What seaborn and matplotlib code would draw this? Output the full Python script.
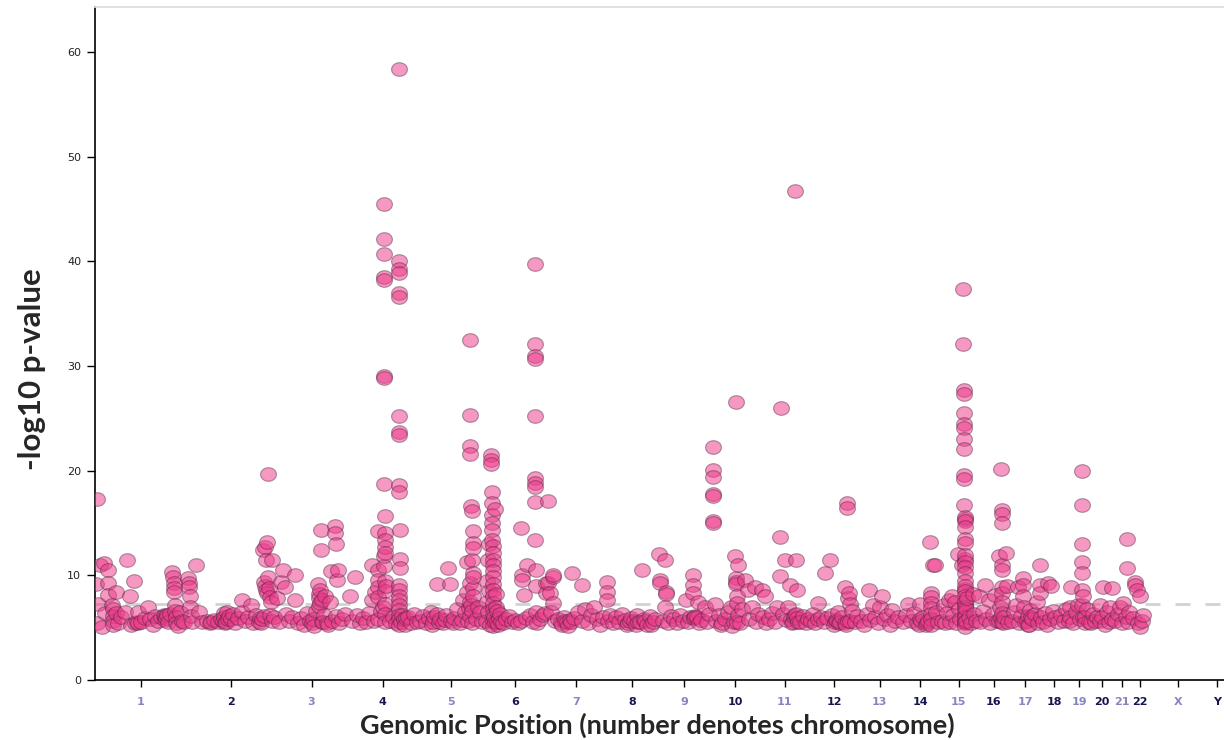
import numpy as np
import pandas as pd
import matplotlib
matplotlib.use('Agg')
import matplotlib.pyplot as plt
from matplotlib.path import Path
from matplotlib.markers import MarkerStyle
import seaborn as sns

# chromosome names and lengths (Mb) used for the cumulative genomic axis
chrom_names = [str(i) for i in range(1, 23)] + ['X', 'Y']
chrom_lengths = [249, 243, 198, 191, 181, 171, 159, 146, 141, 136, 135, 134,
                 115, 107, 102, 90, 81, 78, 59, 63, 48, 51, 155, 59]

# hits per chromosome: (position within chromosome in Mb, -log10 p)
chr1 = [(5, 17.3), (4, 9.2), (5, 5.4), (8, 7.3), (14, 11.0), (18, 5.1), (25, 11.2), (27, 6.4),
        (35, 10.5), (35, 9.3), (35, 8.1), (46, 7.2), (49, 6.8), (49, 6.1), (49, 5.6), (49, 5.3),
        (57, 8.4), (57, 6.4), (63, 5.4), (71, 6.0), (82, 6.5), (87, 11.5), (96, 8.0), (98, 5.3),
        (106, 9.5), (109, 5.4), (114, 5.5), (116, 5.4), (117, 6.5), (126, 5.5), (137, 5.9),
        (145, 7.0), (150, 5.8), (158, 5.3), (164, 6.1), (172, 5.6), (180, 6.0), (188, 6.2),
        (190, 6.1), (192, 5.7), (194, 5.9), (197, 6.2), (199, 5.5), (205, 6.3), (210, 10.3),
        (213, 9.8), (216, 9.3), (216, 8.8), (216, 8.4), (218, 7.2), (218, 6.6), (221, 6.0),
        (221, 5.4), (227, 5.2), (232, 6.5), (238, 5.6), (243, 5.5)]
chr2 = [(5, 9.7), (8, 9.3), (8, 8.9), (10, 8.0), (10, 7.0), (13, 6.1), (16, 5.5), (27, 11.0),
        (35, 6.5), (43, 5.5), (57, 5.6), (65, 5.4), (67, 5.5), (76, 5.7), (87, 5.5), (95, 5.8),
        (101, 5.6), (103, 6.4), (104, 6.0), (106, 5.4), (109, 5.5), (110, 6.5), (113, 5.8),
        (117, 6.1), (122, 5.8), (128, 6.3), (133, 5.4), (141, 5.9), (152, 7.6), (152, 6.5),
        (161, 5.6), (169, 6.0), (177, 7.2), (182, 5.4), (191, 6.2), (199, 5.5), (200, 5.9),
        (205, 5.4), (207, 5.8), (210, 12.4), (212, 9.4), (212, 6.1), (215, 12.7), (215, 9.0),
        (218, 11.5), (218, 8.6), (221, 13.2), (221, 8.3), (223, 19.7), (223, 9.8), (226, 8.8),
        (229, 7.9), (229, 6.2), (232, 7.5), (234, 11.5), (234, 5.6), (240, 6.0)]
chr3 = [(5, 7.8), (10, 5.5), (16, 9.4), (21, 10.5), (26, 8.9), (29, 6.3), (37, 5.6), (46, 6.0),
        (54, 10.0), (54, 7.6), (62, 5.4), (70, 5.9), (78, 5.3), (87, 6.4), (95, 5.6), (100, 5.4),
        (103, 5.8), (106, 5.2), (111, 6.6), (117, 9.2), (118, 8.2), (119, 7.1), (120, 7.8),
        (122, 8.6), (123, 7.4), (125, 14.3), (125, 12.4), (127, 7.6), (127, 5.5), (130, 5.5),
        (133, 6.2), (136, 8.0), (141, 5.4), (145, 5.3), (149, 7.5), (152, 10.4), (155, 5.6),
        (163, 14.7), (163, 14.0), (166, 13.0), (168, 9.6), (171, 10.5), (166, 6.1), (174, 5.4),
        (182, 5.8), (190, 6.3)]
chr4 = [(6, 8.0), (11, 5.6), (20, 9.8), (25, 6.2), (33, 5.4), (41, 5.9), (50, 5.5), (58, 6.4),
        (66, 11.0), (66, 7.6), (72, 5.6), (74, 8.4), (82, 14.2), (82, 10.5), (82, 9.6), (82, 8.9),
        (82, 7.9), (82, 5.8), (91, 6.6), (96, 7.0), (98, 10.9), (99, 45.5), (99, 42.1), (99, 40.7),
        (99, 38.5), (99, 38.2), (99, 29.0), (99, 28.9), (99, 18.7), (100, 11.8), (102, 15.7),
        (102, 14.0), (102, 13.4), (102, 12.7), (102, 12.1), (102, 9.5), (102, 8.5), (102, 7.3),
        (102, 6.3), (102, 5.5), (104, 9.0), (115, 5.6), (123, 6.0), (131, 5.4), (140, 58.4),
        (140, 40.0), (140, 39.3), (140, 38.9), (140, 37.0), (140, 36.6), (140, 25.2), (140, 23.7),
        (140, 23.4), (140, 18.6), (140, 18.0), (143, 14.3), (143, 11.6), (143, 10.7), (140, 9.1),
        (140, 8.6), (140, 8.0), (140, 7.6), (140, 7.2), (140, 6.7), (140, 6.2), (140, 5.8),
        (140, 5.3), (145, 5.5), (147, 6.2), (153, 5.8), (157, 5.3), (160, 5.9), (164, 6.0),
        (173, 5.4), (181, 6.3), (189, 5.5)]
chr5 = [(6, 5.6), (14, 6.1), (22, 5.4), (31, 5.9), (36, 6.5), (40, 5.3), (41, 5.5), (45, 6.0),
        (52, 9.2), (52, 6.3), (57, 5.5), (61, 5.8), (69, 5.4), (74, 5.7), (77, 6.2), (82, 10.7),
        (88, 9.2), (91, 5.6), (95, 5.4), (99, 5.9), (107, 6.8), (115, 5.4), (120, 5.7), (123, 7.6),
        (129, 6.5), (134, 11.3), (134, 8.4), (137, 5.6), (139, 6.9), (141, 7.5), (143, 32.5),
        (143, 25.3), (143, 22.4), (143, 21.6), (143, 9.3), (143, 6.1), (145, 16.6), (146, 7.2),
        (147, 6.6), (148, 16.1), (148, 5.4), (149, 11.5), (150, 14.2), (150, 13.1), (150, 12.6),
        (150, 10.2), (150, 8.8), (150, 8.0), (151, 9.8), (159, 5.8), (164, 7.0), (170, 6.5),
        (175, 5.5)]
chr6 = [(5, 5.6), (8, 7.5), (8, 9.5), (11, 11.5), (11, 6.5), (13, 13.0), (13, 8.5), (16, 5.3),
        (19, 21.5), (19, 21.0), (19, 20.6), (22, 18.0), (22, 16.9), (22, 15.8), (22, 15.0),
        (22, 14.3), (22, 13.4), (24, 12.8), (24, 12.1), (24, 11.5), (24, 11.0), (24, 10.4),
        (24, 9.8), (24, 9.2), (24, 8.6), (24, 8.0), (24, 7.4), (24, 6.8), (24, 6.2), (24, 5.6),
        (24, 5.2), (28, 6.0), (30, 16.3), (30, 5.5), (31, 8.2), (33, 7.0), (35, 5.5), (36, 6.6),
        (38, 5.3), (40, 5.9), (43, 6.3), (46, 5.5), (52, 5.4), (60, 5.8), (68, 6.1), (76, 5.5),
        (84, 5.7), (93, 5.4), (101, 14.5), (103, 10.0), (103, 9.6), (101, 5.6), (109, 8.1),
        (114, 5.9), (117, 11.0), (125, 6.2), (134, 5.5), (139, 39.7), (139, 32.1), (139, 31.0),
        (139, 30.7), (139, 25.2), (139, 19.3), (139, 18.8), (139, 18.4), (139, 17.0), (139, 13.4),
        (142, 10.5), (142, 9.0), (142, 6.5), (144, 5.4), (153, 5.8), (161, 6.2), (166, 6.4),
        (169, 9.3), (169, 8.3)]
chr7 = [(2, 17.1), (3, 9.3), (9, 8.3), (11, 6.5), (17, 9.8), (17, 10.0), (17, 7.4), (22, 5.6),
        (31, 5.8), (39, 5.4), (42, 5.3), (47, 6.0), (50, 5.6), (55, 5.5), (58, 5.2), (63, 5.7),
        (66, 5.5), (69, 10.2), (74, 5.9), (85, 6.5), (96, 9.1), (96, 5.6), (104, 6.8), (112, 5.4),
        (121, 6.2), (129, 7.0), (137, 5.8), (145, 5.3), (153, 6.0)]
chr8 = [(5, 9.4), (5, 8.4), (5, 7.6), (8, 5.6), (14, 6.2), (22, 5.4), (30, 6.0), (38, 5.5),
        (46, 6.3), (55, 5.7), (60, 5.3), (63, 5.4), (68, 5.6), (71, 5.9), (79, 5.6), (84, 5.3),
        (87, 6.2), (90, 5.5), (96, 5.5), (101, 10.5), (106, 5.8), (110, 5.6), (115, 5.3),
        (123, 6.1), (126, 5.3), (131, 5.5), (137, 5.8)]
chr9 = [(1, 12.0), (4, 9.6), (4, 9.3), (12, 5.6), (18, 11.5), (20, 8.4), (20, 8.2), (18, 7.0),
        (26, 5.4), (34, 6.1), (42, 5.8), (50, 5.4), (59, 6.2), (67, 5.6), (75, 7.6), (81, 5.5),
        (86, 6.0), (94, 10.0), (94, 9.1), (94, 8.3), (96, 6.0), (98, 5.9), (100, 6.1), (105, 6.0),
        (108, 7.5), (110, 5.4), (116, 5.7), (127, 7.0), (132, 5.5), (138, 6.3)]
chr10 = [(8, 22.3), (8, 20.1), (8, 19.4), (8, 17.8), (8, 17.6), (8, 15.2), (8, 15.0), (13, 7.3),
         (16, 5.6), (24, 6.2), (30, 5.3), (32, 5.4), (40, 5.8), (49, 6.5), (57, 7.0), (60, 5.2),
         (65, 5.5), (68, 11.8), (70, 26.6), (70, 9.7), (70, 9.4), (70, 9.2), (72, 5.5), (73, 8.0),
         (73, 7.4), (76, 11.0), (76, 6.2), (81, 5.4), (87, 6.8), (95, 9.6), (103, 8.6), (106, 5.8),
         (114, 7.0), (122, 8.9), (125, 5.5), (130, 6.3)]
chr11 = [(5, 8.6), (8, 6.0), (14, 8.0), (16, 5.4), (25, 5.8), (33, 6.4), (41, 5.5), (46, 7.0),
         (55, 13.7), (55, 9.9), (57, 26.0), (63, 6.3), (68, 11.5), (71, 5.7), (76, 7.0), (82, 9.1),
         (85, 5.8), (87, 5.4), (90, 5.5), (93, 6.0), (95, 6.2), (96, 46.7), (98, 11.5), (98, 6.3),
         (100, 5.9), (101, 8.6), (104, 5.5), (109, 5.5), (117, 6.1), (126, 5.4), (131, 5.8)]
chr12 = [(4, 5.6), (10, 6.3), (15, 5.4), (23, 7.4), (23, 5.8), (31, 6.0), (40, 5.5), (42, 10.2),
         (48, 5.9), (56, 11.5), (61, 6.2), (67, 5.3), (70, 5.5), (72, 5.7), (74, 5.6), (78, 6.5),
         (80, 5.4), (83, 5.5), (89, 6.0), (97, 8.9), (97, 5.4), (100, 5.3), (102, 16.9),
         (102, 16.4), (104, 5.6), (105, 7.8), (108, 8.3), (111, 7.3), (111, 5.6), (116, 6.6),
         (124, 5.5), (130, 6.1)]
chr13 = [(6, 5.6), (15, 5.3), (23, 6.3), (28, 8.6), (31, 5.7), (39, 7.2), (45, 6.0), (53, 5.4),
         (58, 7.0), (64, 8.0), (69, 5.8), (77, 6.2), (86, 5.3), (91, 6.7), (99, 5.6), (108, 6.0)]
chr14 = [(6, 5.5), (14, 6.2), (20, 7.3), (28, 5.6), (36, 6.4), (44, 5.4), (50, 5.3), (53, 7.3),
         (53, 5.8), (56, 5.6), (61, 6.0), (69, 5.3), (72, 5.4), (75, 5.6), (80, 13.2), (83, 8.3),
         (83, 7.9), (83, 7.4), (83, 6.9), (83, 6.3), (83, 5.8), (83, 5.3), (88, 11.0), (94, 11.0),
         (96, 6.5), (101, 5.5)]
chr15 = [(6, 5.6), (11, 7.2), (14, 5.4), (19, 6.4), (25, 7.6), (28, 5.5), (33, 8.0), (36, 6.2),
         (41, 7.5), (44, 5.4), (49, 12.0), (52, 6.8), (55, 5.8), (60, 11.0), (63, 37.4),
         (63, 32.1), (66, 27.7), (66, 27.3), (66, 25.5), (66, 24.5), (66, 24.1), (66, 23.0),
         (66, 22.1), (66, 19.6), (66, 19.2), (66, 16.7), (67, 15.4), (67, 11.6), (67, 8.7),
         (67, 7.2), (67, 6.1), (67, 5.4), (69, 15.6), (69, 15.2), (69, 14.6), (69, 13.5),
         (69, 13.1), (69, 11.9), (69, 11.3), (69, 10.8), (69, 10.2), (69, 9.5), (69, 9.0),
         (69, 8.5), (69, 8.0), (69, 7.5), (69, 7.0), (69, 6.5), (69, 6.0), (69, 5.5), (69, 5.1),
         (71, 6.8), (71, 5.6), (74, 7.8), (79, 6.0), (85, 5.4), (90, 8.2), (93, 6.3), (98, 5.6)]
chr16 = [(5, 8.0), (7, 5.5), (16, 6.6), (21, 9.1), (24, 5.8), (32, 7.6), (35, 5.4), (43, 6.3),
         (48, 8.1), (54, 5.6), (59, 11.8), (60, 5.6), (62, 7.0), (64, 6.0), (65, 20.2), (67, 16.2),
         (67, 15.9), (67, 15.0), (67, 11.0), (67, 10.5), (67, 8.9), (67, 8.3), (67, 7.5), (67, 6.4),
         (67, 5.5), (70, 5.4), (73, 6.0), (78, 12.1), (81, 9.0), (84, 5.5)]
chr17 = [(5, 5.6), (10, 6.5), (16, 7.2), (21, 8.9), (24, 5.4), (29, 6.1), (35, 9.7), (35, 9.1),
         (35, 8.0), (37, 7.0), (40, 5.5), (45, 5.6), (48, 6.1), (48, 5.3), (51, 5.3), (54, 6.7),
         (57, 6.0), (59, 5.8), (67, 6.3), (73, 7.5), (76, 5.4)]
chr18 = [(1, 11.0), (1, 9.1), (1, 8.3), (3, 6.0), (8, 5.5), (14, 6.4), (19, 5.3), (22, 9.3),
         (27, 5.8), (30, 9.0), (35, 6.6), (41, 6.0), (49, 5.5), (57, 6.2), (66, 5.6), (71, 6.8)]
chr19 = [(1, 5.6), (4, 7.0), (4, 6.0), (7, 8.9), (12, 5.4), (20, 6.5), (26, 7.2), (31, 5.8),
         (37, 20.0), (37, 16.7), (37, 13.0), (37, 11.3), (37, 10.2), (37, 8.6), (37, 7.2),
         (40, 8.0), (40, 6.0), (45, 6.0), (45, 5.4), (51, 6.8), (56, 5.5)]
chr20 = [(2, 5.4), (8, 6.3), (13, 5.6), (19, 6.0), (27, 7.2), (27, 5.6), (32, 6.05), (35, 8.9),
         (41, 5.3), (46, 6.5), (51, 5.5), (54, 7.0), (59, 8.8), (59, 5.8)]
chr21 = [(5, 5.6), (13, 6.3), (19, 7.0), (24, 5.4), (27, 7.35), (35, 6.0), (38, 13.5), (38, 10.7),
         (40, 5.5), (43, 6.5)]
chr22 = [(6, 5.9), (11, 9.4), (11, 9.1), (17, 8.6), (20, 5.4), (25, 8.0), (25, 5.1), (31, 5.6),
         (33, 6.2)]
chrX = []
chrY = []

threshold = 7.3  # genome-wide significance, -log10(5e-8)

hits = [chr1, chr2, chr3, chr4, chr5, chr6, chr7, chr8, chr9, chr10, chr11, chr12,
        chr13, chr14, chr15, chr16, chr17, chr18, chr19, chr20, chr21, chr22, chrX, chrY]

# cumulative offsets
offsets = np.concatenate([[0], np.cumsum(chrom_lengths)[:-1]])
centers = offsets + np.array(chrom_lengths) / 2

rows = []
for name, off, pts in zip(chrom_names, offsets, hits):
    for pos, val in pts:
        rows.append({'chrom': name, 'pos': off + pos, 'logp': val})
df = pd.DataFrame(rows)

sns.set_theme(style='white')
plt.rcParams['font.family'] = ['DejaVu Sans']

fig = plt.figure(figsize=(12.24, 7.4), dpi=100)
ax = fig.add_axes([95 / 1224, 60 / 740, 1129 / 1224, 673 / 740])

# elliptical marker (wider than tall)
t = np.linspace(0, 2 * np.pi, 80)
ellipse = MarkerStyle(Path(np.column_stack([np.cos(t), 0.86 * np.sin(t)])))

ax.axhline(threshold, color='#d2d2d2', lw=2.0, ls=(0, (5.4, 5.4)), zorder=1)

sns.scatterplot(data=df, x='pos', y='logp', marker=ellipse, s=130,
                color=(0.93, 0.23, 0.54, 0.52), edgecolor=(0.3, 0.15, 0.25, 0.45),
                linewidth=0.8, ax=ax, zorder=3, legend=False)

ax.set_xlim(0, 3081)
ax.set_ylim(0, 64.3)

ax.set_xticks(centers)
ax.set_xticklabels(chrom_names)
for i, lab in enumerate(ax.get_xticklabels()):
    lab.set_color('#8585c2' if i % 2 == 0 else '#16164e')
    lab.set_fontweight('bold')
ax.tick_params(axis='x', length=5, width=1, color='black', pad=7, labelsize=8, bottom=True)

ax.set_yticks(range(0, 61, 10))
ax.tick_params(axis='y', length=6, width=1, color='black', pad=4, labelsize=8,
               labelcolor='#222222', left=True)

for side in ['left', 'bottom']:
    ax.spines[side].set_color('black')
    ax.spines[side].set_linewidth(1.2)
ax.spines['top'].set_color('#dddddd')
ax.spines['right'].set_visible(False)

ax.set_xlabel('Genomic Position (number denotes chromosome)', fontsize=19.5,
              fontweight='bold', family=['Lato', 'DejaVu Sans'])
ax.set_ylabel('-log10 p-value', fontsize=22.5, fontweight='bold',
              family=['Lato', 'DejaVu Sans'])
ax.xaxis.set_label_coords(0.498, -0.049)
ax.yaxis.set_label_coords(-0.043, 0.462)

fig.savefig('out.png', dpi=100)
